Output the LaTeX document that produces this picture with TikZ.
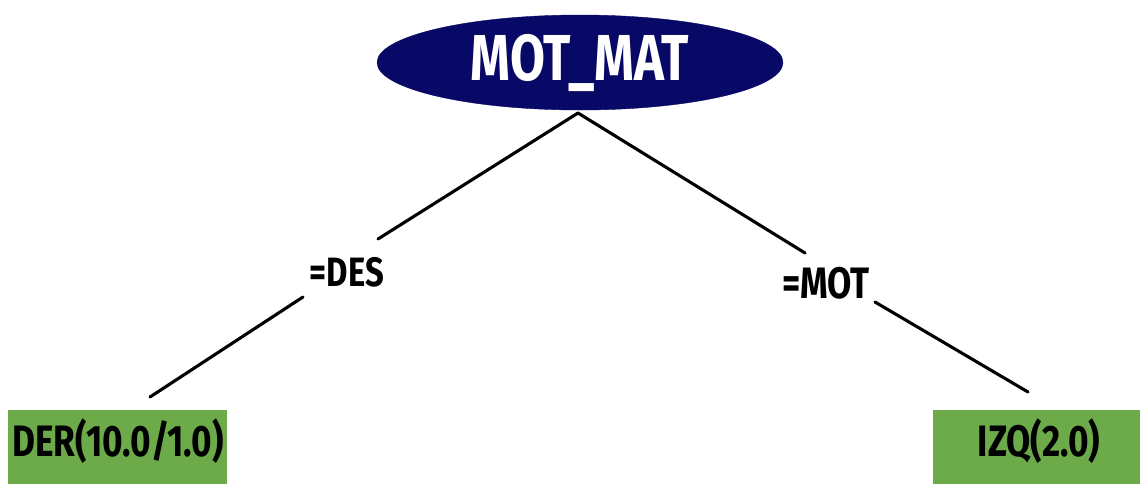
\documentclass[tikz,border=0pt]{standalone}
\usepackage{fontspec}
\newfontfamily\lblfont[FakeStretch=0.78]{Fira Sans}
\newfontfamily\leaffont[FakeStretch=0.8]{Fira Sans}
\usetikzlibrary{shapes.geometric}
\definecolor{navy}{RGB}{8,8,102}
\definecolor{leafgreen}{RGB}{108,170,74}
\tikzset{
  rootnode/.style={ellipse, fill=navy, draw=navy, minimum width=406pt, minimum height=95pt, inner sep=0pt,
    text=white, font=\lblfont\bfseries\fontsize{65}{65}\selectfont},
  leafnode/.style={rectangle, fill=leafgreen, inner sep=0pt, text=black},
  leaftext/.style={inner sep=0pt, text=black, font=\leaffont\bfseries\fontsize{44}{44}\selectfont},
  edgelbl/.style={inner sep=0pt, text=black, font=\leaffont\bfseries\fontsize{41}{41}\selectfont},
  conn/.style={line width=3.1pt, black, line cap=round}
}
\begin{document}
\begin{tikzpicture}[x=1pt,y=-1pt]
\clip (0,0) rectangle (1140,483);
\fill[white] (0,0) rectangle (1140,483);
\node[rootnode] (root) at (580,62.5) {MOT\_MAT};
\node[leafnode, minimum width=219pt, minimum height=80pt] (leafL) at (117.5,450) {};
\node[leafnode, minimum width=212pt, minimum height=80pt] (leafR) at (1039,450) {};
\node[leaftext] (txtL) at (118,441) {DER(10.0/1.0)};
\node[leaftext] (txtR) at (1039,441) {IZQ(2.0)};
\node[edgelbl] (lblL) at (347,272) {=DES};
\node[edgelbl, font=\leaffont\bfseries\fontsize{44}{44}\selectfont] (lblR) at (826,283) {=MOT};
\coordinate (apex) at (578,113);
\coordinate (bL1) at (378,239);
\coordinate (bL2) at (303,297);
\coordinate (eL) at (150,397);
\coordinate (bR1) at (805,253);
\coordinate (bR2) at (875,302);
\coordinate (eR) at (1028,392);
\draw[conn] (apex) -- (bL1);
\draw[conn] (bL2) -- (eL);
\draw[conn] (apex) -- (bR1);
\draw[conn] (bR2) -- (eR);
\end{tikzpicture}
\end{document}
